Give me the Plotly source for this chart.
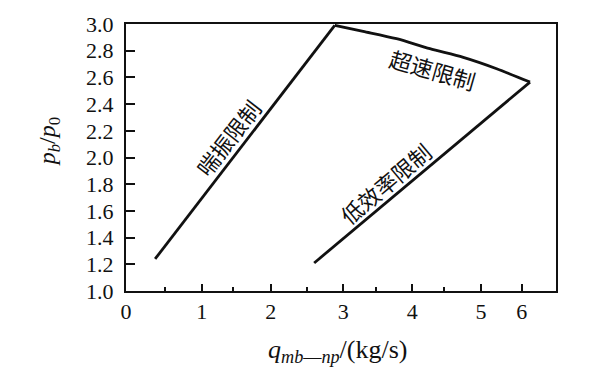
import plotly.graph_objects as go

X_TICK_LABELS = ["0", "1", "2", "3", "4", "5", "6"]
X_TICK_POS = [0.0, 1.066, 2.038, 3.061, 4.032, 5.0, 5.573]
X_MINOR_POS = [0.549, 1.511, 2.545, 3.517, 4.479]
Y_TICKS = [1.0, 1.2, 1.4, 1.6, 1.8, 2.0, 2.2, 2.4, 2.6, 2.8, 3.0]
Y_TICK_LABELS = ["1.0", "1.2", "1.4", "1.6", "1.8", "2.0", "2.2", "2.4", "2.6", "2.8", "3.0"]

# surge limit (喘振限制)
SURGE_X = [0.41, 2.94]
SURGE_Y = [1.24, 2.99]
# overspeed limit (超速限制)
OVERSPEED_X = [2.94, 3.34, 3.81, 4.28, 4.75, 5.22, 5.69]
OVERSPEED_Y = [2.99, 2.945, 2.89, 2.815, 2.75, 2.665, 2.565]
# low-efficiency limit (低效率限制)
LOWEFF_X = [5.69, 2.65]
LOWEFF_Y = [2.565, 1.21]

LABELS = ["喘振限制", "超速限制", "低效率限制"]
LABEL_X = [1.44, 4.32, 3.65]
LABEL_Y = [2.15, 2.665, 1.81]
LABEL_ANGLE = [-52, 16, -40]

SERIF = "Liberation Serif, Times New Roman, serif"
CJK = "Noto Sans CJK SC"

LINE = dict(color="#111111", width=2.8)

fig = go.Figure()
fig.add_trace(go.Scatter(x=SURGE_X, y=SURGE_Y, mode="lines", line=LINE,
                         hoverinfo="skip", showlegend=False))
fig.add_trace(go.Scatter(x=OVERSPEED_X, y=OVERSPEED_Y, mode="lines",
                         line=dict(LINE, shape="spline", smoothing=0.8),
                         hoverinfo="skip", showlegend=False))
fig.add_trace(go.Scatter(x=LOWEFF_X, y=LOWEFF_Y, mode="lines", line=LINE,
                         hoverinfo="skip", showlegend=False))

for t, x, y, a in zip(LABELS, LABEL_X, LABEL_Y, LABEL_ANGLE):
    fig.add_annotation(x=x, y=y, xref="x", yref="y", text=t, showarrow=False,
                       textangle=a, font=dict(family=CJK, size=22, color="#111111"))

# plot area: 430 x 267.5 px
fig.add_annotation(x=-0.179, y=0.557, xref="paper", yref="paper",
                   xanchor="center", yanchor="middle",
                   text="<i>p</i><sub><i>b</i></sub>/<i>p</i><sub>0</sub>",
                   showarrow=False, textangle=-90,
                   font=dict(family=SERIF, size=24, color="#111111"))
fig.add_annotation(x=0.493, y=-0.225, xref="paper", yref="paper",
                   xanchor="center", yanchor="middle",
                   text="<i>q</i><sub><i>mb</i>\u2014<i>np</i></sub>/(kg/s)",
                   showarrow=False,
                   font=dict(family=SERIF, size=26, color="#111111"))

fig.update_layout(
    width=584, height=359,
    margin=dict(l=118, r=36, t=15.5, b=76, autoexpand=False),
    paper_bgcolor="white", plot_bgcolor="white",
    showlegend=False,
    xaxis=dict(range=[0, 6.056], showgrid=False, zeroline=False, automargin=False,
               showline=True, mirror=True, linecolor="#111111", linewidth=2,
               tickmode="array", tickvals=X_TICK_POS, ticktext=X_TICK_LABELS,
               ticks="inside", ticklen=7, tickwidth=1.5, tickcolor="#111111",
               ticklabelstandoff=0,
               minor=dict(tickmode="array", tickvals=X_MINOR_POS, ticks="inside",
                          ticklen=4, tickwidth=1.5, tickcolor="#111111"),
               tickfont=dict(family=SERIF, size=22, color="#111111")),
    yaxis=dict(range=[1.0, 3.0], showgrid=False, zeroline=False, automargin=False,
               showline=True, mirror=True, linecolor="#111111", linewidth=2,
               tickmode="array", tickvals=Y_TICKS, ticktext=Y_TICK_LABELS,
               ticks="inside", ticklen=9, tickwidth=1.5, tickcolor="#111111",
               ticklabelstandoff=6,
               tickfont=dict(family=SERIF, size=22, color="#111111")),
)

fig.write_html("out.html")
